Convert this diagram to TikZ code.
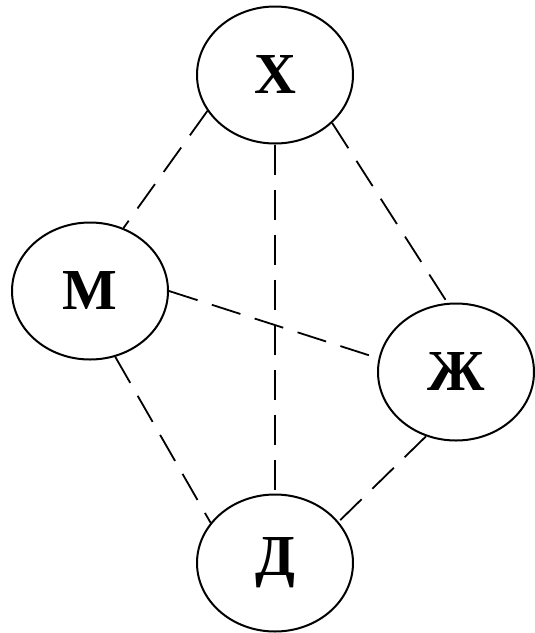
\documentclass[tikz,border=0pt]{standalone}
\usepackage{fontspec}
\setmainfont{Liberation Serif}
\usetikzlibrary{shapes.geometric}
\begin{document}
\begin{tikzpicture}[x=1pt,y=-1pt,
  vertex/.style={ellipse,draw,line width=2pt,minimum width=156pt,minimum height=137pt,inner sep=0pt,font=\fontsize{58}{60}\selectfont\bfseries},
  link/.style={line width=1.8pt,dash pattern=on 30pt off 15pt}]
\useasboundingbox[fill=white] (0,0) rectangle (535,633);
\node[vertex] (X) at (275,75) {Х};
\node[vertex] (M) at (90,291) {М};
\node[vertex] (Zh) at (456,372) {Ж};
\node[vertex] (D) at (275,563) {Д};
\draw[link] (X.south) -- (D.north);
\draw[link] (X.208) -- (M.62);
\draw[link] (X.320) -- (Zh.97);
\draw[link] (M.0) -- (Zh.170);
\draw[link] (M.291) -- (D.148);
\draw[link] (Zh.245) -- (D.33);
\end{tikzpicture}
\end{document}
